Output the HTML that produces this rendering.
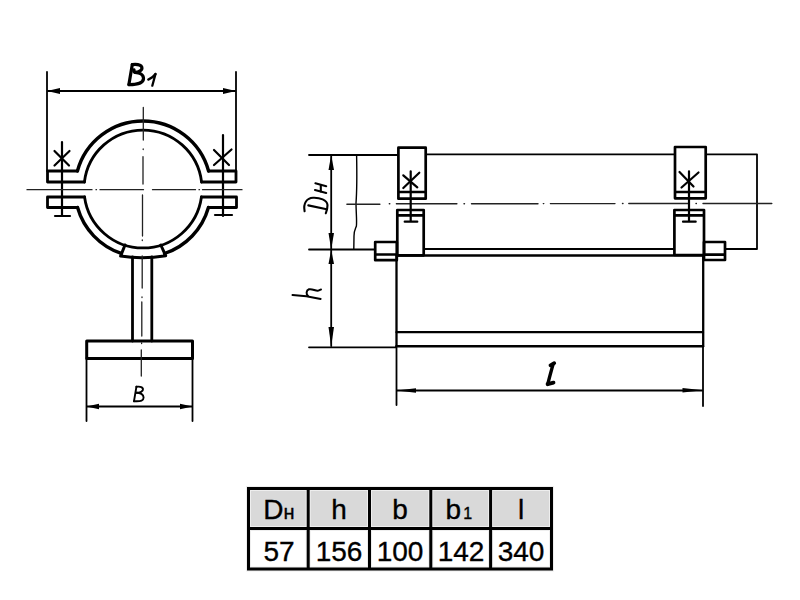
<!DOCTYPE html>
<html><head><meta charset="utf-8">
<style>
html,body{margin:0;padding:0;background:#fff;width:800px;height:600px;overflow:hidden}
svg{position:absolute;left:0;top:0}
</style></head><body>
<svg width="800" height="600" viewBox="0 0 800 600">
<g fill="none" stroke="#000" stroke-linecap="round" stroke-linejoin="round">
<!-- ===== LEFT VIEW ===== -->
<!-- B1 dimension -->
<g stroke-width="1.8">
<path d="M47,72 V171"/>
<path d="M236,72 V171"/>
<path d="M48,91 H235"/>
<path d="M86.5,358 V421"/>
<path d="M192.5,358 V421"/>
<path d="M87,406.5 H192"/>
</g>
<!-- arrows -->
<g fill="#000" stroke="none">
<path d="M47,91 L60,88 L60,94 Z"/>
<path d="M236,91 L223,88 L223,94 Z"/>
<path d="M86.5,406.5 L99,403.8 L99,409.2 Z"/>
<path d="M192.5,406.5 L180,403.8 L180,409.2 Z"/>
</g>
<!-- B1 text -->
<g stroke-width="3.2">
<path d="M132.3,64.6 L128.9,84.6"/>
<path d="M132.3,64.6 C136,64.2 140.5,64 141.8,67.2 C142.8,70.2 138.5,72.3 135,72.3 C134,71.8 133.6,71 134,69.8"/>
<path d="M135,72.3 C139.5,72.5 143.6,74.8 143.5,78.6 C143.4,82.5 139,84.6 128.9,84.6"/>
</g>
<g stroke-width="2.3">
<path d="M155.5,74 L152.3,85.7"/>
<path d="M148.3,79.6 C151,78.5 153.5,77 155.5,74"/>
</g>
<!-- clamp ring -->
<g stroke-width="3.4">
<path d="M77.43,171 A68,68 0 0 1 208.57,171"/>
<path d="M77.57,207.5 A68,68 0 0 0 121.2,253.41"/>
<path d="M164.5,253.5 A68,68 0 0 0 208.43,207.5"/>
</g>
<g stroke-width="2.8">
<path d="M84.42,182 A59,59 0 0 1 201.58,182"/>
<path d="M84.55,197 A59,59 0 0 0 201.45,197"/>
<path d="M125,245 L120.6,256.1 Q143,259.7 165.7,255.7 L160.8,245" stroke-width="3"/>
</g>
<!-- flanges -->
<g stroke-width="2.8">
<path d="M77.43,171 H47.5 V182 H84.42"/>
<path d="M208.57,171 H236 V182 H201.58"/>
<path d="M84.55,197 H47.5 V207.5 H77.57"/>
<path d="M201.45,197 H236.5 V207.5 H208.43"/>
</g>
<!-- bolts -->
<g stroke-width="2.2">
<path d="M62,142 V216"/>
<path d="M55,216 H70"/>
<path d="M54.5,151 L69,165.5 M69.5,151 L54.5,165.5"/>
<path d="M223,135 V216"/>
<path d="M215,215 H232"/>
<path d="M214,150 L229,165 M231.5,149.5 L214,165"/>
</g>
<!-- rod -->
<g stroke-width="2.8">
<path d="M132.5,257 V341"/>
<path d="M151.8,257 V341"/>
</g>
<!-- base plate -->
<g stroke-width="3">
<path d="M86.7,341 H192.5 V358.5 H86.7 Z"/>
</g>
<!-- B text -->
<g stroke-width="1.9">
<path d="M136.4,386.8 L134,401.2"/>
<path d="M136.4,386.8 C139,386.5 142.5,386.5 143,389 C143.3,391.5 140,392.8 136,392.8"/>
<path d="M136,392.8 C140,392.8 143.4,393.6 143.6,397.5 C143.5,400.5 141.5,401.6 134,401.2"/>
</g>
<!-- centerlines left -->
<g stroke-width="1.3" stroke="#222">
<path d="M27,189.7 H92 M96,189.7 H96.5 M100,189.7 H143.5 M152.5,189.7 H195.5 M199,189.7 H199.5 M202.5,189.7 H242"/>
<path d="M143.3,107.5 V140 M143.2,149 V149.5 M143,156.7 V184 M142.5,195 V236 M142.3,240 V240.5 M142.2,256 V288 M142,297 V297.5 M141.8,302 V336 M141.6,343 V343.5 M141.3,350 V376"/>
</g>

<!-- ===== RIGHT VIEW ===== -->
<g stroke-width="1.8">
<path d="M309,155 H398"/>
<path d="M426,154.3 H675"/>
<path d="M706,154.3 H757 V249 H725"/>
<path d="M309,249.5 H375"/>
<path d="M424,249 H674"/>
<path d="M309,347.3 H396"/>
<path d="M331.2,156 V346"/>
<path d="M396.5,346 V405"/>
<path d="M703,346 V406"/>
<path d="M397,390.5 H702"/>
<path stroke-width="1.4" d="M356.6,155 C356.9,170 357,190 356,203 C356,212 357,220 356.4,226 C355.5,229 354,230 354,236 L353.8,249"/>
</g>
<g fill="#000" stroke="none">
<path d="M331.2,155 L328.5,170 L334,170 Z"/>
<path d="M331.2,249.6 L328.5,233 L334,233 Z"/>
<path d="M331.2,249.6 L328.5,264 L334,264 Z"/>
<path d="M331.2,346.5 L328.5,327 L334,327 Z"/>
<path d="M396.5,390.5 L416,388.2 L416,392.8 Z"/>
<path d="M703,390.3 L682.5,388 L682.5,392.6 Z"/>
</g>
<!-- Dн text -->
<g stroke-width="2.1">
<path d="M308.3,205.4 L326.7,209.2"/>
<path d="M304.6,211.2 C303,203 307,198 313,197.8 C320,197.5 327,200 327.5,205 C327.5,209 326.5,211 325.8,213.3"/>
<path d="M315.4,183.3 L326.2,186.2"/>
<path d="M315,190 L326.2,193"/>
<path d="M320.8,185 V191.5"/>
</g>
<!-- h text -->
<g stroke-width="2">
<path d="M292.5,295 C302,295.5 312,297 320.7,298.9"/>
<path d="M308,296 C306,294 306,290.5 309,289.3 C312,288.5 315,290.8 317.5,290.8 C319,290.6 320,289.5 321,289.5"/>
</g>
<!-- centerline right -->
<g stroke-width="1.4" stroke="#222">
<path d="M346.9,204.2 H379.9 M389.3,203.8 H389.8 M396.4,203.8 H456.9 M464,203.8 H464.5 M471.5,203.8 H538 M543.3,203.6 H543.8 M550.4,203.6 H615 M622.5,203.5 H623 M628.8,203.5 H689 M696,203.5 H696.4 M703,203.5 H771.8"/>
</g>
<!-- brackets -->
<g stroke-width="2.7">
<path d="M398.4,147.7 H425.7 V198.7 H398.4 Z M398.4,192 H425.7"/>
<path d="M397.3,210 H423.7 V255.3 H397.3 Z M397.3,215.3 H423.7"/>
<path d="M675,147 H705.7 V198.3 H675 Z M675,192 H705.7"/>
<path d="M674.4,210 H704 V255 H674.4 Z M674.4,215.3 H704"/>
<!-- nut blocks -->
<path d="M375.2,242 H396.8 V260.2 H375.2 Z M375.2,254.5 H396.8"/>
<path d="M704,242 H725 V260 H704 Z M704,254.7 H725"/>
<!-- body -->
<path d="M396.8,255.5 H704" stroke-width="2.4"/>
<path d="M396.5,255 V346" stroke-width="2.3"/>
<path d="M703.2,255 V346" stroke-width="2.3"/>
<path d="M396.5,332.2 H703" stroke-width="2.3"/>
<path d="M396.5,346.3 H703" stroke-width="2.5"/>
</g>
<g stroke-width="2.2">
<path d="M410.7,171.3 V221.7 M404.7,221.7 H417.3"/>
<path d="M403.3,175.3 L417.3,187.3 M419.3,172.7 L403.3,188"/>
<path d="M689,171.3 V221.7 M683,221.7 H695.7"/>
<path d="M679.5,172 L693.5,186.5 M698.5,172.5 L681.5,187.5"/>
</g>
<!-- l text -->
<g stroke-width="3.4">
<path d="M553,364.5 C551.5,370 549.5,377 547.8,384"/>
<path d="M550.5,365.3 L554.2,363.2" stroke-width="3.8"/>
<path d="M547.6,384.2 L553.5,382.6" stroke-width="3.8"/>
</g>
</g>

<!-- ===== TABLE ===== -->
<rect x="248.5" y="488.5" width="303" height="40" fill="#d9d9d9"/>
<g fill="none" stroke="#eee" stroke-width="5">
<rect x="248.5" y="488.5" width="303" height="80.5"/>
<path d="M248.5,528.5 H551.5"/>
<path d="M308.2,488.5 V569 M369.5,488.5 V569 M430.8,488.5 V569 M490.6,488.5 V569"/>
</g>
<g fill="none" stroke="#000" stroke-width="3">
<rect x="248.5" y="488.5" width="303" height="80.5"/>
<path d="M248.5,528.5 H551.5"/>
<path d="M308.2,488.5 V569 M369.5,488.5 V569 M430.8,488.5 V569 M490.6,488.5 V569"/>
</g>
<g font-family="Liberation Sans, sans-serif" font-size="28" fill="#000" stroke="#000" stroke-width="0.35" text-anchor="middle">
<text x="279" y="519"><tspan>D</tspan><tspan font-size="20">н</tspan></text>
<text x="339" y="519">h</text>
<text x="400" y="519">b</text>
<text x="445.6" y="519" text-anchor="start"><tspan>b</tspan><tspan font-size="16" dx="2">1</tspan></text>
<text x="521" y="519">l</text>
<text x="279" y="561">57</text>
<text x="339" y="561">156</text>
<text x="400" y="561">100</text>
<text x="461" y="561">142</text>
<text x="521" y="561">340</text>
</g>
</svg>
</body></html>
